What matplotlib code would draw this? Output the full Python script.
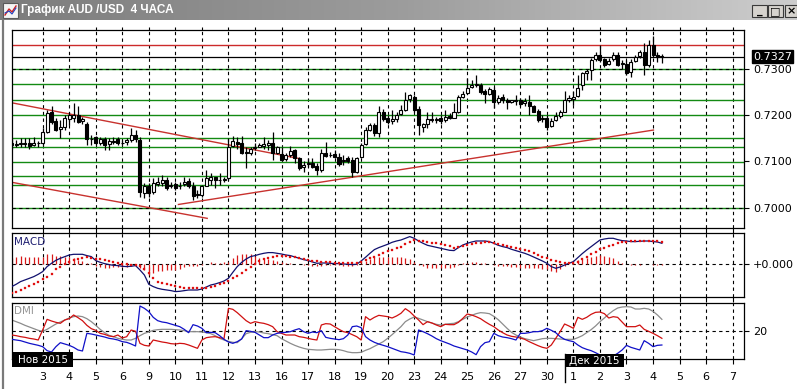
import numpy as np
import matplotlib
matplotlib.use("Agg")
import matplotlib.pyplot as plt
from matplotlib.patches import Rectangle
from matplotlib.lines import Line2D
from matplotlib.colors import LinearSegmentedColormap

# ---------------- data ----------------
title_text = "График AUD /USD  4 ЧАСА"
day_labels = ['3', '4', '5', '6', '9', '10', '11', '12', '13', '16', '17', '18', '19', '20',
              '23', '24', '25', '26', '27', '30', '1', '2', '3', '4', '5', '6', '7']
month_labels = ['Нов 2015', 'Дек 2015']
price_ticks = [0.7000, 0.7100, 0.7200, 0.7300]

opens = [0.7141, 0.7136, 0.7138, 0.7139, 0.7141, 0.7135, 0.7139, 0.7141, 0.7164, 0.7206,
         0.7188, 0.7171, 0.7174, 0.7191, 0.7195, 0.7200, 0.7187, 0.7182, 0.7148, 0.7152,
         0.7139, 0.7149, 0.7138, 0.7144, 0.7148, 0.7139, 0.7142, 0.7147, 0.7157, 0.7147,
         0.7031, 0.7048, 0.7033, 0.7051, 0.7054, 0.7061, 0.7047, 0.7051, 0.7046, 0.7051,
         0.7058, 0.7047, 0.7027, 0.7028, 0.7047, 0.7059, 0.7066, 0.7059, 0.7061, 0.7064,
         0.7134, 0.7143, 0.7139, 0.7121, 0.7118, 0.7129, 0.7132, 0.7134, 0.7136, 0.7141,
         0.7119, 0.7116, 0.7105, 0.7114, 0.7125, 0.7107, 0.7087, 0.7094, 0.7097, 0.7090,
         0.7082, 0.7119, 0.7113, 0.7116, 0.7110, 0.7100, 0.7107, 0.7103, 0.7078, 0.7109,
         0.7138, 0.7169, 0.7179, 0.7162, 0.7208, 0.7193, 0.7188, 0.7191, 0.7203, 0.7211,
         0.7236, 0.7240, 0.7213, 0.7174, 0.7181, 0.7191, 0.7190, 0.7193, 0.7189, 0.7198,
         0.7195, 0.7207, 0.7240, 0.7248, 0.7262, 0.7265, 0.7265, 0.7252, 0.7246, 0.7255,
         0.7229, 0.7240, 0.7232, 0.7229, 0.7231, 0.7233, 0.7226, 0.7229, 0.7219, 0.7209,
         0.7191, 0.7193, 0.7177, 0.7190, 0.7198, 0.7208, 0.7234, 0.7236, 0.7242, 0.7265,
         0.7291, 0.7298, 0.7321, 0.7331, 0.7321, 0.7311, 0.7321, 0.7331, 0.7310, 0.7310,
         0.7294, 0.7318, 0.7328, 0.7337, 0.7309, 0.7351, 0.7330, 0.7329]
highs = [0.7148, 0.7147, 0.7150, 0.7150, 0.7150, 0.7152, 0.7144, 0.7172, 0.7211, 0.7220,
         0.7193, 0.7190, 0.7200, 0.7208, 0.7227, 0.7220, 0.7197, 0.7186, 0.7157, 0.7155,
         0.7154, 0.7152, 0.7150, 0.7154, 0.7154, 0.7147, 0.7150, 0.7172, 0.7168, 0.7154,
         0.7053, 0.7053, 0.7064, 0.7067, 0.7071, 0.7067, 0.7056, 0.7056, 0.7056, 0.7067,
         0.7064, 0.7056, 0.7038, 0.7049, 0.7082, 0.7074, 0.7067, 0.7074, 0.7067, 0.7150,
         0.7155, 0.7154, 0.7155, 0.7132, 0.7132, 0.7139, 0.7141, 0.7154, 0.7147, 0.7164,
         0.7133, 0.7131, 0.7119, 0.7133, 0.7128, 0.7110, 0.7100, 0.7107, 0.7107, 0.7096,
         0.7128, 0.7143, 0.7121, 0.7125, 0.7118, 0.7114, 0.7112, 0.7110, 0.7110, 0.7139,
         0.7175, 0.7184, 0.7184, 0.7219, 0.7213, 0.7200, 0.7211, 0.7208, 0.7222, 0.7251,
         0.7247, 0.7244, 0.7219, 0.7184, 0.7208, 0.7208, 0.7197, 0.7200, 0.7211, 0.7204,
         0.7226, 0.7244, 0.7252, 0.7280, 0.7276, 0.7287, 0.7269, 0.7256, 0.7262, 0.7262,
         0.7244, 0.7247, 0.7237, 0.7234, 0.7244, 0.7237, 0.7237, 0.7244, 0.7222, 0.7213,
         0.7200, 0.7200, 0.7193, 0.7208, 0.7211, 0.7253, 0.7244, 0.7252, 0.7287, 0.7294,
         0.7301, 0.7323, 0.7337, 0.7352, 0.7323, 0.7323, 0.7337, 0.7337, 0.7320, 0.7320,
         0.7321, 0.7330, 0.7341, 0.7356, 0.7363, 0.7371, 0.7337, 0.7332]
lows = [0.7128, 0.7131, 0.7131, 0.7132, 0.7126, 0.7133, 0.7132, 0.7136, 0.7161, 0.7182,
        0.7167, 0.7150, 0.7168, 0.7179, 0.7186, 0.7184, 0.7182, 0.7136, 0.7136, 0.7136,
        0.7136, 0.7125, 0.7125, 0.7138, 0.7136, 0.7136, 0.7136, 0.7143, 0.7143, 0.7024,
        0.7020, 0.7024, 0.7030, 0.7046, 0.7046, 0.7038, 0.7042, 0.7038, 0.7040, 0.7046,
        0.7042, 0.7017, 0.7020, 0.7024, 0.7046, 0.7049, 0.7042, 0.7049, 0.7056, 0.7060,
        0.7131, 0.7128, 0.7116, 0.7085, 0.7114, 0.7125, 0.7131, 0.7128, 0.7125, 0.7103,
        0.7116, 0.7100, 0.7100, 0.7110, 0.7096, 0.7082, 0.7078, 0.7089, 0.7085, 0.7071,
        0.7078, 0.7110, 0.7110, 0.7107, 0.7090, 0.7092, 0.7097, 0.7067, 0.7074, 0.7107,
        0.7136, 0.7167, 0.7155, 0.7152, 0.7188, 0.7182, 0.7182, 0.7186, 0.7200, 0.7210,
        0.7229, 0.7208, 0.7157, 0.7164, 0.7172, 0.7186, 0.7184, 0.7182, 0.7185, 0.7191,
        0.7193, 0.7204, 0.7237, 0.7246, 0.7258, 0.7262, 0.7247, 0.7227, 0.7243, 0.7215,
        0.7224, 0.7227, 0.7213, 0.7226, 0.7222, 0.7219, 0.7219, 0.7200, 0.7206, 0.7186,
        0.7186, 0.7168, 0.7174, 0.7188, 0.7195, 0.7206, 0.7229, 0.7222, 0.7239, 0.7255,
        0.7276, 0.7276, 0.7318, 0.7316, 0.7305, 0.7308, 0.7318, 0.7306, 0.7301, 0.7287,
        0.7283, 0.7315, 0.7323, 0.7287, 0.7305, 0.7327, 0.7316, 0.7312]
closes = [0.7136, 0.7138, 0.7139, 0.7138, 0.7134, 0.7139, 0.7141, 0.7164, 0.7204, 0.7186,
          0.7169, 0.7174, 0.7195, 0.7200, 0.7200, 0.7186, 0.7191, 0.7148, 0.7149, 0.7139,
          0.7148, 0.7136, 0.7144, 0.7142, 0.7139, 0.7141, 0.7146, 0.7157, 0.7148, 0.7033,
          0.7048, 0.7031, 0.7053, 0.7056, 0.7060, 0.7042, 0.7049, 0.7042, 0.7048, 0.7056,
          0.7047, 0.7026, 0.7029, 0.7046, 0.7064, 0.7067, 0.7060, 0.7061, 0.7063, 0.7132,
          0.7145, 0.7137, 0.7119, 0.7118, 0.7128, 0.7132, 0.7135, 0.7138, 0.7141, 0.7118,
          0.7131, 0.7103, 0.7113, 0.7123, 0.7107, 0.7085, 0.7092, 0.7096, 0.7089, 0.7082,
          0.7118, 0.7112, 0.7115, 0.7109, 0.7094, 0.7103, 0.7102, 0.7078, 0.7107, 0.7136,
          0.7168, 0.7179, 0.7161, 0.7208, 0.7191, 0.7186, 0.7191, 0.7200, 0.7211, 0.7233,
          0.7243, 0.7211, 0.7179, 0.7181, 0.7191, 0.7190, 0.7191, 0.7188, 0.7196, 0.7193,
          0.7206, 0.7239, 0.7247, 0.7260, 0.7265, 0.7267, 0.7251, 0.7246, 0.7256, 0.7229,
          0.7238, 0.7232, 0.7228, 0.7232, 0.7232, 0.7224, 0.7230, 0.7220, 0.7208, 0.7190,
          0.7193, 0.7175, 0.7188, 0.7198, 0.7206, 0.7233, 0.7237, 0.7240, 0.7260, 0.7291,
          0.7296, 0.7319, 0.7330, 0.7320, 0.7309, 0.7318, 0.7330, 0.7309, 0.7312, 0.7291,
          0.7316, 0.7327, 0.7337, 0.7309, 0.7351, 0.7330, 0.7327, 0.7327]

# horizontal levels and trend lines drawn on the price chart
green_levels = [0.7300, 0.7268, 0.7233, 0.7200, 0.7150, 0.7131, 0.7098, 0.7068, 0.7049, 0.7000]
red_level = 0.7352
trend_upper_x = [0, 65.2]
trend_upper_y = [0.7227, 0.7106]
trend_lower_x = [0, 44.2]
trend_lower_y = [0.7055, 0.6977]
trend_rise_x = [37.7, 145.1]
trend_rise_y = [0.7007, 0.7168]

# MACD (units of 0.0001)
macd_main = [-22.3, -20.0, -17.3, -15.7, -14.0, -12.3, -10.0, -7.3, -2.3, 1.0,
             4.0, 6.0, 7.7, 9.3, 10.0, 10.0, 10.0, 8.7, 7.7, 3.7,
             2.0, 0.7, -0.3, -1.0, -1.3, -2.0, -2.3, -2.0, -1.3, -5.7,
             -10.7, -20.0, -22.3, -24.0, -25.0, -25.7, -26.3, -27.3, -27.0, -26.3,
             -25.7, -25.7, -25.7, -24.7, -22.7, -20.7, -19.7, -18.3, -16.7, -14.0,
             -8.0, -2.3, 2.0, 5.3, 7.7, 8.7, 10.0, 11.0, 11.7, 11.7,
             11.0, 10.3, 9.3, 8.7, 7.3, 6.0, 4.7, 3.7, 2.3, 1.0,
             1.3, 1.3, 1.0, 0.7, 0.7, 0.3, 0.0, -0.3, 0.0, 3.3,
             7.0, 11.0, 14.7, 16.7, 18.3, 20.0, 22.0, 23.3, 24.3, 26.0,
             27.7, 26.0, 23.3, 21.0, 19.0, 18.0, 17.0, 16.0, 15.0, 14.0,
             13.7, 16.7, 19.3, 21.0, 22.3, 23.3, 23.3, 23.3, 22.7, 21.0,
             19.0, 17.7, 16.7, 15.0, 13.7, 12.3, 11.0, 9.3, 7.3, 5.3,
             3.3, 1.0, -2.3, -4.0, -2.7, -0.7, 1.0, 2.7, 6.7, 10.7,
             14.3, 17.7, 21.0, 24.3, 25.3, 26.0, 26.0, 24.7, 23.7, 23.3,
             22.7, 22.7, 23.0, 23.3, 23.3, 22.7, 22.3, 21.0]
macd_signal = [-29.0, -27.3, -25.7, -23.3, -21.3, -19.7, -17.3, -15.0, -12.3, -9.3,
               -4.7, -2.3, 0.0, 2.0, 4.0, 5.7, 6.7, 7.0, 6.7, 5.7,
               5.0, 4.0, 3.0, 2.0, 1.3, 0.7, 0.0, -0.3, -1.0, -2.0,
               -5.0, -9.0, -13.3, -17.3, -18.7, -19.7, -20.7, -21.7, -22.3, -23.3,
               -23.7, -24.0, -24.0, -24.0, -23.3, -22.7, -21.3, -20.0, -18.7, -16.7,
               -14.0, -11.3, -8.7, -5.3, -2.3, 0.7, 3.3, 5.3, 6.7, 7.3,
               8.0, 8.3, 8.0, 7.7, 7.0, 6.0, 5.3, 4.7, 3.7, 3.0,
               2.7, 2.3, 2.0, 1.7, 1.7, 1.7, 1.7, 1.3, 1.0, 2.3,
               4.0, 6.0, 7.7, 9.3, 11.3, 13.0, 14.7, 16.3, 17.3, 20.0,
               22.7, 24.0, 23.7, 23.0, 22.3, 21.7, 21.0, 20.0, 19.0, 18.0,
               16.7, 17.3, 18.3, 19.3, 20.3, 21.0, 21.7, 22.0, 22.0, 21.7,
               20.7, 19.7, 18.7, 17.7, 16.7, 15.7, 14.3, 13.0, 11.0, 9.3,
               7.7, 6.0, 4.7, 3.3, 2.0, 1.3, 1.0, 1.0, 2.7, 5.0,
               7.7, 10.0, 12.7, 15.3, 16.7, 18.3, 19.3, 21.0, 22.3, 22.7,
               23.0, 23.3, 23.3, 23.3, 23.3, 23.3, 23.0, 22.0]
macd_hist = [6.7, 7.3, 8.3, 7.7, 7.3, 7.3, 7.3, 7.7, 10.0, 10.3,
             8.7, 8.3, 7.7, 7.3, 6.0, 4.3, 3.3, 1.7, 1.0, -2.0,
             -3.0, -3.3, -3.3, -3.0, -2.7, -2.7, -2.3, -1.7, -0.3, -3.7,
             -5.7, -11.0, -9.0, -6.7, -6.3, -6.0, -5.7, -5.7, -4.7, -3.0,
             -2.0, -1.7, -1.7, -0.7, 0.7, 2.0, 1.7, 1.7, 2.0, 2.7,
             6.0, 9.0, 10.7, 10.7, 10.0, 8.0, 6.7, 5.7, 5.0, 4.3,
             3.0, 2.0, 1.3, 1.0, 0.3, 0.0, -0.7, -1.0, -1.3, -2.0,
             -1.3, -1.0, -1.0, -1.0, -1.0, -1.3, -1.7, -1.7, -1.0, 1.0,
             3.0, 5.0, 7.0, 7.3, 7.0, 7.0, 7.3, 7.0, 7.0, 6.0,
             5.0, 2.0, -0.3, -2.0, -3.3, -3.7, -4.0, -4.0, -4.0, -4.0,
             -3.0, -0.7, 1.0, 1.7, 2.0, 2.3, 1.7, 1.3, 0.7, -0.7,
             -1.7, -2.0, -2.0, -2.7, -3.0, -3.3, -3.3, -3.7, -3.7, -4.0,
             -4.3, -5.0, -7.0, -7.3, -4.7, -2.0, 0.0, 1.7, 4.0, 5.7,
             6.7, 7.7, 8.3, 9.0, 8.7, 7.7, 6.7, 3.7, 1.3, 0.7,
             -0.3, -0.7, -0.3, 0.0, 0.0, -0.7, -0.7, -1.0]

# DMI
dmi_plus = [17.6, 17.2, 16.6, 16.2, 15.6, 15.2, 14.6, 20.6, 27.0, 26.0,
            25.2, 24.6, 26.6, 27.4, 29.6, 28.0, 26.2, 23.4, 21.4, 20.4,
            18.6, 18.0, 17.0, 16.6, 17.6, 15.8, 16.6, 20.6, 19.8, 12.6,
            11.4, 11.0, 14.6, 14.0, 13.4, 13.0, 12.4, 12.2, 12.6, 12.4,
            11.6, 10.6, 9.6, 14.6, 16.0, 16.4, 16.6, 16.0, 15.4, 33.6,
            33.0, 31.0, 28.6, 26.2, 24.6, 25.6, 25.0, 24.6, 23.8, 22.6,
            19.6, 18.6, 17.6, 17.6, 17.6, 16.6, 16.2, 15.6, 15.0, 14.6,
            23.6, 24.4, 24.2, 22.6, 21.0, 19.6, 19.0, 17.8, 16.6, 14.6,
            28.6, 26.6, 28.2, 29.4, 29.0, 28.6, 27.8, 29.0, 30.6, 33.4,
            31.6, 29.0, 26.6, 23.8, 25.6, 24.8, 23.6, 22.6, 24.0, 23.8,
            23.8, 25.2, 27.6, 30.2, 29.6, 28.6, 27.4, 25.6, 24.0, 22.6,
            20.6, 19.0, 17.6, 16.8, 16.4, 15.8, 15.0, 13.6, 12.4, 11.2,
            10.2, 9.6, 11.6, 15.6, 19.6, 24.2, 23.0, 21.6, 28.2, 27.0,
            28.2, 30.0, 31.2, 31.4, 30.4, 27.8, 28.6, 28.2, 25.4, 22.6,
            22.6, 22.6, 23.6, 21.0, 19.8, 18.6, 17.2, 15.6]
dmi_minus = [15.0, 14.6, 14.2, 13.4, 12.6, 12.0, 11.4, 10.6, 8.2, 7.4,
             10.6, 13.0, 12.2, 11.4, 10.2, 8.6, 8.0, 18.6, 18.2, 17.6,
             17.0, 16.4, 15.6, 15.2, 14.6, 13.6, 13.2, 12.2, 11.0, 35.0,
             33.6, 31.6, 28.2, 26.2, 25.4, 25.0, 24.2, 23.4, 22.6, 21.0,
             19.0, 23.8, 23.0, 21.6, 19.0, 19.2, 19.0, 17.2, 15.0, 13.4,
             12.6, 13.6, 15.2, 20.2, 19.8, 19.2, 17.6, 16.0, 16.0, 17.6,
             18.6, 19.0, 19.2, 19.6, 20.6, 21.4, 19.6, 18.6, 19.4, 19.0,
             20.2, 16.2, 15.6, 15.2, 14.8, 15.4, 17.6, 22.6, 23.0, 22.0,
             16.6, 14.6, 13.2, 12.2, 11.4, 10.6, 9.6, 8.6, 7.6, 7.2,
             6.6, 5.6, 20.6, 19.6, 18.4, 17.0, 15.4, 14.2, 13.2, 12.2,
             11.0, 10.2, 9.4, 8.6, 7.4, 5.8, 10.6, 13.0, 13.6, 18.6,
             17.2, 16.4, 16.0, 15.4, 14.6, 18.6, 18.6, 19.0, 19.6, 19.6,
             20.2, 21.6, 20.4, 19.0, 16.6, 15.0, 14.2, 13.6, 11.6, 10.0,
             9.0, 8.2, 7.0, 5.6, 5.0, 4.6, 5.0, 6.6, 8.6, 11.4,
             10.2, 9.4, 8.6, 14.2, 12.6, 10.6, 11.4, 11.6]
dmi_adx = [26.6, 25.6, 24.6, 23.4, 22.4, 21.4, 20.4, 19.8, 21.0, 22.6,
           24.2, 25.4, 26.6, 27.8, 28.6, 29.0, 28.6, 27.4, 25.6, 23.4,
           21.0, 19.0, 17.4, 16.6, 15.6, 15.0, 14.6, 14.6, 15.6, 17.2,
           18.6, 19.4, 20.4, 20.8, 21.0, 21.0, 21.0, 20.8, 20.6, 20.2,
           19.6, 19.6, 19.6, 19.4, 19.0, 18.4, 17.2, 15.6, 14.6, 13.8,
           13.2, 13.0, 15.4, 18.4, 19.2, 19.6, 19.4, 18.8, 18.4, 17.8,
           17.2, 15.4, 14.0, 12.6, 11.4, 10.4, 9.6, 9.0, 8.8, 8.6,
           8.6, 8.8, 9.0, 9.0, 8.8, 8.2, 7.4, 7.0, 7.0, 7.2,
           8.4, 9.4, 10.8, 12.2, 13.6, 15.6, 17.8, 20.2, 22.6, 25.6,
           27.2, 28.4, 27.6, 26.6, 25.6, 24.8, 24.0, 23.6, 24.0, 24.4,
           24.6, 25.6, 27.0, 28.4, 29.4, 30.4, 31.0, 30.8, 30.4, 28.8,
           26.8, 24.2, 21.6, 19.2, 17.6, 16.4, 15.4, 14.8, 14.2, 14.8,
           15.4, 15.6, 15.6, 15.4, 15.2, 15.0, 15.0, 15.0, 16.0, 17.2,
           19.0, 20.8, 23.0, 25.6, 27.8, 30.2, 32.2, 33.8, 34.4, 34.6,
           34.4, 33.2, 33.2, 33.6, 33.2, 31.8, 29.6, 27.0]

# ---------------- figure ----------------
W, H = 797, 389
fig = plt.figure(figsize=(W / 100, H / 100), dpi=100)
fig.patch.set_facecolor('white')
plt.rcParams['font.family'] = ['DejaVu Sans']


def fx(x):
    return x / W


def fy(y):
    return 1 - y / H


def axes_px(x0, y0, x1, y1):
    return fig.add_axes([fx(x0), fy(y1), (x1 - x0) / W, (y1 - y0) / H])


XL, XR = 11.7, 744.0
CANDLE_PX = 4.423
ax_p = axes_px(XL, 30.0, XR, 228.0)
ax_m = axes_px(XL, 233.3, XR, 296.7)
ax_d = axes_px(XL, 303.0, XR, 359.0)

n = len(opens)
x = np.arange(n)
o = np.array(opens); h = np.array(highs); l = np.array(lows); c = np.array(closes)
xmax = (XR - XL) / CANDLE_PX
day_pos = [7 + 6 * k for k in range(len(day_labels))]

grid_kw = dict(color='black', lw=0.8, linestyle=(0, (3, 3)))

for ax in (ax_p, ax_m, ax_d):
    ax.set_xlim(0, xmax)
    ax.set_facecolor('white')
    for s in ax.spines.values():
        s.set_linewidth(0.9)
        s.set_color('black')
    ax.set_xticks(day_pos)
    ax.yaxis.tick_right()
    ax.tick_params(axis='both', direction='out', length=3.6, width=0.8, color='black',
                   labelsize=8, pad=2.8)
    ax.tick_params(axis='x', labelbottom=False)
    for xp in day_pos:
        ax.axvline(xp, zorder=1, **grid_kw)

# ---- price panel ----
ax_p.set_ylim(0.69561, 0.73844)
ax_p.set_yticks(price_ticks)
ax_p.set_yticklabels([f"{v:.4f}" for v in price_ticks])
ax_p.tick_params(axis='x', top=True)
for t in ax_p.xaxis.get_major_ticks():
    t.tick2line.set_color('#9a9a9a')
    t.tick2line.set_markersize(2.2)
for lv in green_levels:
    ax_p.axhline(lv, color='#138a13', lw=1.0, zorder=1.5)
for lv in (price_ticks[0], price_ticks[-1]):
    ax_p.axhline(lv, zorder=1.6, **grid_kw)
ax_p.axhline(red_level, color='#cc2a2a', lw=1.0, zorder=1.5)
ax_p.axhline(c[-1], color='black', lw=0.9, zorder=1.5)
tl_col = '#c8322e'
ax_p.plot(trend_upper_x, trend_upper_y, color=tl_col, lw=1.0, zorder=2)
ax_p.plot(trend_lower_x, trend_lower_y, color=tl_col, lw=1.0, zorder=2)
ax_p.plot(trend_rise_x, trend_rise_y, color=tl_col, lw=1.0, zorder=2)

ax_p.vlines(x, l, h, color='black', lw=0.9, zorder=3)
up = c >= o
ax_p.bar(x[up], (c - o)[up], bottom=o[up], width=0.68, facecolor='white',
         edgecolor='black', linewidth=0.8, zorder=4)
ax_p.bar(x[~up], (o - c)[~up], bottom=c[~up], width=0.68, facecolor='black',
         edgecolor='black', linewidth=0.8, zorder=4)

ax_p.annotate(f"{c[-1]:.4f}", xy=(1, c[-1]), xycoords=('axes fraction', 'data'),
              xytext=(9, 0), textcoords='offset pixels', va='center', ha='left',
              color='white', fontsize=8, annotation_clip=False,
              bbox=dict(boxstyle='square,pad=0.12', fc='black', ec='black'))

# ---- MACD panel ----
ax_m.set_ylim(-32.4, 31.0)
ax_m.set_yticks([0])
ax_m.set_yticklabels(['+0.000'])
ax_m.axhline(0, zorder=1, **grid_kw)
ax_m.vlines(x, 0, macd_hist, color='#d81818', lw=0.9, zorder=2)
ax_m.plot(x, macd_main, color='#10106e', lw=0.9, zorder=3)
ax_m.plot(x, macd_signal, linestyle='none', marker='s', ms=1.7, mfc='#e01010',
          mec='#e01010', mew=0.2, zorder=4)
ax_m.text(13.5 / W * 0 + 0.0025, 0.87, 'MACD', transform=ax_m.transAxes, color='#1c1c70',
          fontsize=7.5, va='center', ha='left')

# ---- DMI panel ----
ax_d.set_ylim(3.2, 36.8)
ax_d.set_yticks([20])
ax_d.set_yticklabels(['20'])
ax_d.axhline(20, zorder=1, **grid_kw)
ax_d.plot(x, dmi_adx, color='#8c8c8c', lw=0.9, zorder=2)
ax_d.plot(x, dmi_plus, color='#d01010', lw=0.9, zorder=3)
ax_d.plot(x, dmi_minus, color='#1010c8', lw=0.9, zorder=3)
ax_d.text(0.0025, 0.86, 'DMI', transform=ax_d.transAxes, color='#959595',
          fontsize=7.5, va='center', ha='left')
ax_d.tick_params(axis='x', labelbottom=True, pad=5.5)
ax_d.set_xticklabels(day_labels)

# ---- month boxes ----
fig.patches.append(Rectangle((fx(11.7), fy(367)), (73.3 - 11.7) / W, (367 - 351.7) / H,
                             transform=fig.transFigure, facecolor='black', edgecolor='none', zorder=5))
fig.text(fx(42.5), fy(359.6), month_labels[0], color='white', fontsize=7.5,
         ha='center', va='center', zorder=6)
fig.patches.append(Rectangle((fx(565), fy(367)), (624 - 565) / W, (367 - 354) / H,
                             transform=fig.transFigure, facecolor='black', edgecolor='none', zorder=5))
fig.text(fx(594.5), fy(360.6), month_labels[1], color='white', fontsize=7.5,
         ha='center', va='center', zorder=6)
fig.add_artist(Line2D([fx(565.3), fx(565.3)], [fy(354), fy(382)], transform=fig.transFigure,
                      color='black', lw=1.0))

# ---- window title bar ----
ax_t = fig.add_axes([0, fy(20), 1, 20 / H])
cmap = LinearSegmentedColormap.from_list('tb', ['#7c7c7c', '#9c9c9c', '#cdcdcd'])
ax_t.imshow(np.linspace(0, 1, 256)[None, :], aspect='auto', cmap=cmap,
            extent=[0, 1, 0, 1])
ax_t.set_axis_off()
fig.text(fx(21), fy(10.5), title_text, color='white', fontweight='bold', fontsize=8.5,
         family='Liberation Sans', ha='left', va='center')
# icon
fig.patches.append(Rectangle((fx(3), fy(18)), 15 / W, 15 / H, transform=fig.transFigure,
                             facecolor='#f4f4f4', edgecolor='#5a5a5a', lw=0.8))
fig.add_artist(Line2D([fx(5), fx(9), fx(12), fx(16)], [fy(15), fy(9), fy(12), fy(6)],
                      transform=fig.transFigure, color='#d02020', lw=1.0))
fig.add_artist(Line2D([fx(5), fx(9), fx(12), fx(16)], [fy(13), fy(11), fy(14), fy(8)],
                      transform=fig.transFigure, color='#2040c0', lw=0.8))
# window buttons
for (bx0, bx1, sym) in ((752, 767, '_'), (768, 783, '□'), (785, 797, '×')):
    fig.patches.append(Rectangle((fx(bx0), fy(17)), (bx1 - bx0) / W, 12 / H,
                                 transform=fig.transFigure, facecolor='#d6d3ce',
                                 edgecolor='#3a3a3a', lw=0.8))
    fig.text(fx((bx0 + bx1) / 2), fy(11.3), sym, color='black', fontsize=8,
             fontweight='bold', ha='center', va='center')

# left window border
fig.add_artist(Line2D([fx(2.5), fx(2.5)], [fy(20), 0], transform=fig.transFigure,
                      color='#7a7a7a', lw=1.6))

fig.savefig('out.png', dpi=100, facecolor='white')
